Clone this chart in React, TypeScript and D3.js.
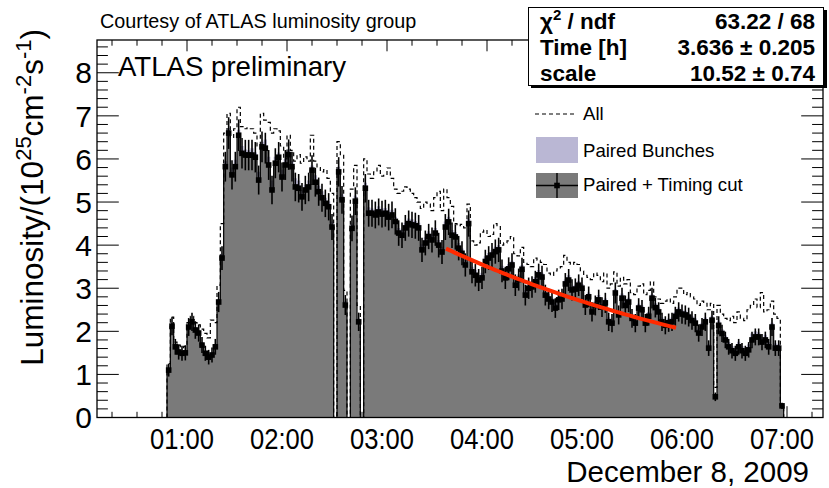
import React, { useRef, useEffect } from 'react';
import * as d3 from 'd3';

// histogram binning (hours after midnight, 2 minute bins)
const BIN_START = 0.8;
const BIN_WIDTH = 1 / 30;

// Paired + Timing cut (markers, grey fill)
const TIMING = [
  1.10, 2.12, 1.64, 1.52, 1.49, 1.50, 2.10, 2.22, 2.03, 1.96,
  1.68, 1.49, 1.40, 1.45, 1.64, 2.68, 3.70, 5.82, 6.60, 5.63,
  5.82, 6.55, 6.13, 6.09, 6.09, 6.09, 6.04, 5.51, 6.28, 6.25,
  5.86, 5.28, 5.90, 6.04, 5.58, 5.86, 6.10, 5.82, 5.35, 5.32,
  5.12, 5.28, 5.35, 5.74, 5.46, 5.24, 5.10, 4.97, 4.89, 4.42,
  0, 5.70, 5.05, 2.61, 0, 4.39, 5.02, 2.22, 0, 5.32,
  4.74, 4.74, 4.70, 4.77, 4.72, 4.74, 4.65, 4.70, 4.55, 4.28,
  4.23, 4.40, 4.50, 4.47, 4.45, 4.40, 3.89, 4.05, 4.20, 4.12,
  4.28, 4.00, 3.84, 4.42, 4.54, 4.23, 4.19, 3.93, 3.81, 3.54,
  4.50, 3.38, 3.30, 3.19, 3.24, 3.62, 3.70, 3.77, 3.85, 3.89,
  3.40, 3.24, 3.45, 3.54, 3.07, 3.20, 3.44, 2.84, 3.00, 3.03,
  3.15, 3.31, 3.26, 2.84, 2.75, 2.68, 2.54, 2.73, 2.75, 3.10,
  3.19, 2.96, 2.98, 3.07, 3.00, 2.61, 2.80, 2.45, 2.60, 2.73,
  2.56, 2.66, 2.22, 2.19, 2.89, 2.38, 2.77, 2.60, 2.68, 2.30,
  2.19, 2.54, 2.50, 2.19, 2.35, 2.77, 2.55, 2.45, 2.22, 2.14,
  2.20, 2.22, 2.35, 2.45, 2.40, 2.38, 2.33, 2.25, 2.19, 1.96,
  2.10, 2.22, 1.61, 2.26, 0.48, 2.14, 1.95, 1.80, 1.64, 1.55,
  1.49, 1.64, 1.55, 1.49, 1.57, 1.80, 1.87, 1.87, 1.75, 1.80,
  1.64, 2.10, 1.61, 1.61, 0.27,
];

// Paired Bunches (lavender fill)
const PAIRED = [
  1.15, 2.20, 1.70, 1.58, 1.55, 1.56, 2.14, 2.28, 2.10, 2.02,
  1.75, 1.55, 1.46, 1.52, 1.70, 2.75, 3.80, 5.95, 6.72, 5.80,
  5.98, 6.68, 6.30, 6.22, 6.20, 6.25, 6.15, 5.70, 6.40, 6.45,
  6.05, 5.50, 6.05, 6.15, 5.75, 6.00, 6.22, 5.95, 5.55, 5.50,
  5.28, 5.40, 5.50, 5.85, 5.62, 5.38, 5.25, 5.10, 5.02, 4.55,
  0, 5.82, 5.18, 2.70, 0, 4.50, 5.15, 2.30, 0, 5.45,
  4.88, 4.85, 4.82, 4.90, 4.85, 4.86, 4.80, 4.82, 4.66, 4.40,
  4.36, 4.52, 4.62, 4.60, 4.56, 4.52, 4.02, 4.18, 4.32, 4.25,
  4.40, 4.12, 3.96, 4.55, 4.66, 4.35, 4.30, 4.05, 3.92, 3.66,
  4.62, 3.50, 3.42, 3.30, 3.36, 3.74, 3.82, 3.88, 3.96, 4.00,
  3.52, 3.36, 3.56, 3.64, 3.18, 3.32, 3.54, 2.95, 3.10, 3.14,
  3.26, 3.42, 3.36, 2.95, 2.86, 2.78, 2.64, 2.84, 2.86, 3.20,
  3.30, 3.06, 3.08, 3.17, 3.10, 2.72, 2.90, 2.56, 2.70, 2.84,
  2.66, 2.76, 2.32, 2.30, 2.98, 2.48, 2.88, 2.70, 2.78, 2.40,
  2.30, 2.64, 2.60, 2.30, 2.45, 2.86, 2.65, 2.55, 2.32, 2.24,
  2.30, 2.32, 2.45, 2.55, 2.50, 2.48, 2.42, 2.35, 2.30, 2.06,
  2.20, 2.32, 1.70, 2.36, 0.52, 2.25, 2.05, 1.90, 1.75, 1.66,
  1.60, 1.76, 1.66, 1.60, 1.70, 1.95, 2.00, 1.98, 1.86, 1.92,
  1.75, 2.20, 1.72, 1.70, 0.28,
];

// All (dashed outline)
const ALL = [
  1.25, 2.33, 1.75, 1.68, 1.62, 1.65, 2.20, 2.35, 2.20, 2.15,
  2.05, 1.95, 1.85, 2.26, 2.20, 3.07, 4.50, 6.60, 7.06, 6.50,
  6.70, 7.20, 6.75, 6.70, 6.72, 6.70, 6.60, 6.30, 7.06, 6.90,
  6.85, 6.60, 6.70, 6.65, 6.30, 6.00, 6.55, 6.20, 5.95, 6.10,
  5.90, 6.05, 5.95, 6.55, 5.95, 5.80, 5.70, 5.75, 5.55, 5.20,
  0, 6.40, 6.10, 2.95, 0, 5.30, 5.85, 2.60, 0, 6.00,
  5.65, 5.55, 5.70, 5.85, 5.60, 5.62, 5.79, 5.55, 5.30, 5.20,
  5.25, 5.35, 5.30, 5.20, 5.10, 5.00, 4.85, 5.00, 4.95, 4.80,
  5.10, 5.25, 4.80, 5.30, 5.10, 4.90, 4.50, 4.45, 4.48, 4.40,
  4.95, 4.10, 4.00, 4.05, 4.30, 4.35, 4.20, 4.25, 4.50, 4.45,
  4.00, 4.05, 4.10, 4.20, 3.80, 3.75, 3.95, 3.60, 3.55, 3.50,
  3.70, 3.65, 3.60, 3.55, 3.35, 3.30, 3.40, 3.45, 3.50, 3.76,
  3.60, 3.55, 3.60, 3.55, 3.40, 3.30, 3.25, 3.20, 3.35, 3.30,
  3.15, 3.35, 3.00, 3.10, 3.38, 3.05, 3.25, 3.10, 3.20, 2.90,
  2.85, 3.05, 3.10, 2.85, 2.95, 3.15, 2.80, 2.75, 2.65, 2.70,
  2.75, 2.65, 2.80, 3.00, 3.00, 2.85, 2.90, 2.80, 2.75, 2.60,
  2.70, 2.65, 2.50, 2.65, 0.70, 2.60, 2.40, 2.30, 2.25, 2.35,
  2.20, 2.45, 2.30, 2.25, 2.50, 2.60, 2.75, 2.55, 2.90, 2.45,
  2.50, 2.70, 2.40, 2.30, 0.30,
];

// poisson-like error: err = sqrt(value * ERR_K)
const ERR_K = 0.0205;

const HOUR_TICKS = [1, 2, 3, 4, 5, 6, 7];
const HOUR_LABELS = ['01:00', '02:00', '03:00', '04:00', '05:00', '06:00', '07:00'];
const Y_TICKS = [0, 1, 2, 3, 4, 5, 6, 7, 8];

// exponential fit: scale * exp(-t / time)
const FIT_SCALE = 10.52;
const FIT_TIME = 3.636;
const FIT_RANGE = [3.59, 5.89];

const STATS = [
  ['χ', '2', ' / ndf', '63.22 / 68'],
  ['Time [h]', '', '', '3.636 ± 0.205'],
  ['scale', '', '', '10.52 ± 0.74'],
];
const LEGEND = ['All', 'Paired Bunches', 'Paired + Timing cut'];

const W = 829;
const H = 488;
const FONT = '"Liberation Sans", Arial, Helvetica, sans-serif';
const GREY = '#7a7a7a';
const LAVENDER = '#bab7d4';

const App = () => {
  const svgRef = useRef<SVGSVGElement | null>(null);

  useEffect(() => {
    if (!svgRef.current) return;
    const svg = d3.select(svgRef.current);
    svg.selectAll('*').remove();

    const left = 97, right = 823, top = 40, bottom = 417.5;
    const x = d3.scaleLinear().domain([0.1, 7.36]).range([left, right]);
    const y = d3.scaleLinear().domain([0, 8.76]).range([bottom, top]);

    svg.append('rect').attr('width', W).attr('height', H).attr('fill', '#fff');

    // Ticks (under the histograms, like ROOT)
    const ticks = svg.append('g').attr('stroke', '#000').attr('stroke-width', 1);
    const xMinor = d3.range(0.25, 7.36, 0.25).filter(t => Math.abs(t - Math.round(t)) > 0.01);
    xMinor.forEach(t => {
      ticks.append('line').attr('x1', x(t)).attr('x2', x(t)).attr('y1', bottom).attr('y2', bottom - 5.7);
      ticks.append('line').attr('x1', x(t)).attr('x2', x(t)).attr('y1', top).attr('y2', top + 5.7);
    });
    HOUR_TICKS.forEach(t => {
      ticks.append('line').attr('x1', x(t)).attr('x2', x(t)).attr('y1', bottom).attr('y2', bottom - 11.3);
      ticks.append('line').attr('x1', x(t)).attr('x2', x(t)).attr('y1', top).attr('y2', top + 11.3);
    });
    const yMinor = d3.range(0.2, 8.76, 0.2).filter(v => Math.abs(v - Math.round(v)) > 0.01);
    yMinor.forEach(v => {
      ticks.append('line').attr('x1', left).attr('x2', left + 10.9).attr('y1', y(v)).attr('y2', y(v));
      ticks.append('line').attr('x1', right).attr('x2', right - 10.9).attr('y1', y(v)).attr('y2', y(v));
    });
    Y_TICKS.forEach(v => {
      ticks.append('line').attr('x1', left).attr('x2', left + 21.8).attr('y1', y(v)).attr('y2', y(v));
      ticks.append('line').attr('x1', right).attr('x2', right - 21.8).attr('y1', y(v)).attr('y2', y(v));
    });

    const edge = (i: number) => x(BIN_START + i * BIN_WIDTH);
    const stepPoints = (vals: number[]) => {
      const pts: [number, number][] = [[edge(0), y(0)]];
      vals.forEach((v, i) => {
        pts.push([edge(i), y(v)]);
        pts.push([edge(i + 1), y(v)]);
      });
      pts.push([edge(vals.length), y(0)]);
      return pts;
    };
    const line = d3.line();

    // Paired Bunches fill
    svg.append('path').attr('d', line(stepPoints(PAIRED)) + 'Z').attr('fill', LAVENDER);
    // Paired + Timing fill with outline
    svg.append('path').attr('d', line(stepPoints(TIMING)) + 'Z').attr('fill', GREY);
    svg.append('path').attr('d', line(stepPoints(TIMING))).attr('fill', 'none')
      .attr('stroke', '#000').attr('stroke-width', 1.2);
    // All: dashed outline
    svg.append('path').attr('d', line(stepPoints(ALL))).attr('fill', 'none')
      .attr('stroke', '#000').attr('stroke-width', 1.2).attr('stroke-dasharray', '4,3');

    // error bars + markers
    const eb = svg.append('g').attr('stroke', '#000').attr('stroke-width', 1.6);
    TIMING.forEach((v, i) => {
      if (v <= 0) return;
      const err = Math.sqrt(v * ERR_K);
      const xc = (edge(i) + edge(i + 1)) / 2;
      eb.append('line').attr('x1', xc).attr('x2', xc).attr('y1', y(v - err)).attr('y2', y(v + err));
      eb.append('line').attr('x1', edge(i)).attr('x2', edge(i + 1)).attr('y1', y(v)).attr('y2', y(v));
    });
    const ms = 5.6;
    svg.append('g').selectAll('rect').data(TIMING.map((v, i) => ({ v, i })).filter(d => d.v > 0))
      .enter().append('rect')
      .attr('x', d => (edge(d.i) + edge(d.i + 1)) / 2 - ms / 2)
      .attr('y', d => y(d.v) - ms / 2)
      .attr('width', ms).attr('height', ms).attr('fill', '#000');

    // fit curve
    const fitT = d3.range(FIT_RANGE[0], FIT_RANGE[1] + 1e-9, (FIT_RANGE[1] - FIT_RANGE[0]) / 80);
    svg.append('path')
      .attr('d', d3.line<number>().x(t => x(t)).y(t => y(FIT_SCALE * Math.exp(-t / FIT_TIME)))(fitT))
      .attr('fill', 'none').attr('stroke', '#ff2a00').attr('stroke-width', 4);

    // frame
    svg.append('rect').attr('x', left).attr('y', top).attr('width', right - left).attr('height', bottom - top)
      .attr('fill', 'none').attr('stroke', '#000').attr('stroke-width', 1.3);

    // tick labels
    const txt = svg.append('g').attr('font-family', FONT).attr('fill', '#000');
    Y_TICKS.forEach(v => {
      txt.append('text').attr('x', 92).attr('y', y(v) + 10.7).attr('text-anchor', 'end')
        .attr('font-size', 30).text(String(v));
    });
    HOUR_TICKS.forEach((t, i) => {
      txt.append('text').attr('x', x(t) - 5).attr('y', 449).attr('text-anchor', 'middle')
        .attr('font-size', 29).attr('textLength', 64).attr('lengthAdjust', 'spacingAndGlyphs')
        .text(HOUR_LABELS[i]);
    });
    txt.append('text').attr('x', 809).attr('y', 482).attr('text-anchor', 'end')
      .attr('font-size', 29.5).text('December 8, 2009');

    // y title
    const yt = txt.append('text').attr('transform', 'translate(43,29) rotate(-90)')
      .attr('text-anchor', 'end').attr('font-size', 31.5);
    yt.append('tspan').text('Luminosity/(10');
    yt.append('tspan').attr('dy', -12).attr('font-size', 22).text('25');
    yt.append('tspan').attr('dy', 12).text('cm');
    yt.append('tspan').attr('dy', -12).attr('font-size', 22).text('-2');
    yt.append('tspan').attr('dy', 12).text('s');
    yt.append('tspan').attr('dy', -12).attr('font-size', 22).text('-1');
    yt.append('tspan').attr('dy', 12).text(')');

    txt.append('text').attr('x', 100).attr('y', 28).attr('font-size', 19.8)
      .text('Courtesy of ATLAS luminosity group');
    txt.append('text').attr('x', 118).attr('y', 76).attr('font-size', 27.6)
      .text('ATLAS preliminary');

    // legend
    const lg = svg.append('g');
    lg.append('line').attr('x1', 535).attr('x2', 577).attr('y1', 114).attr('y2', 114)
      .attr('stroke', '#000').attr('stroke-width', 1.2).attr('stroke-dasharray', '4,3');
    lg.append('rect').attr('x', 536).attr('y', 137).attr('width', 42).attr('height', 26).attr('fill', LAVENDER);
    lg.append('rect').attr('x', 536).attr('y', 173).attr('width', 42).attr('height', 25).attr('fill', GREY);
    lg.append('line').attr('x1', 536).attr('x2', 578).attr('y1', 185.5).attr('y2', 185.5)
      .attr('stroke', '#000').attr('stroke-width', 1.4);
    lg.append('line').attr('x1', 557).attr('x2', 557).attr('y1', 173).attr('y2', 198)
      .attr('stroke', '#000').attr('stroke-width', 1.4);
    lg.append('rect').attr('x', 557 - ms / 2).attr('y', 185.5 - ms / 2).attr('width', ms).attr('height', ms).attr('fill', '#000');
    [120, 156.5, 190.5].forEach((yy, i) => {
      lg.append('text').attr('x', 583).attr('y', yy).attr('font-family', FONT)
        .attr('font-size', 18.6).text(LEGEND[i]);
    });

    // stats box
    const sb = svg.append('g');
    sb.append('rect').attr('x', 531).attr('y', 10).attr('width', 296).attr('height', 78).attr('fill', '#000');
    sb.append('rect').attr('x', 528.5).attr('y', 7.5).attr('width', 295).attr('height', 78)
      .attr('fill', '#fff').attr('stroke', '#000').attr('stroke-width', 1);
    [28.5, 54.5, 81].forEach((yy, i) => {
      const [a, sup, b, val] = STATS[i];
      const t = sb.append('text').attr('x', 540).attr('y', yy).attr('font-family', FONT)
        .attr('font-weight', 'bold').attr('font-size', 22.5);
      t.append('tspan').text(a);
      if (sup) {
        t.append('tspan').attr('dy', -9).attr('font-size', 15).text(sup);
        t.append('tspan').attr('dy', 9).text(b);
      }
      sb.append('text').attr('x', 815).attr('y', yy).attr('text-anchor', 'end').attr('font-family', FONT)
        .attr('font-weight', 'bold').attr('font-size', 22.5).text(val);
    });
  }, []);

  return (
    <svg ref={svgRef} width={W} height={H}
      style={{ position: 'absolute', left: 0, top: 0, display: 'block' }} />
  );
};

export default App;
